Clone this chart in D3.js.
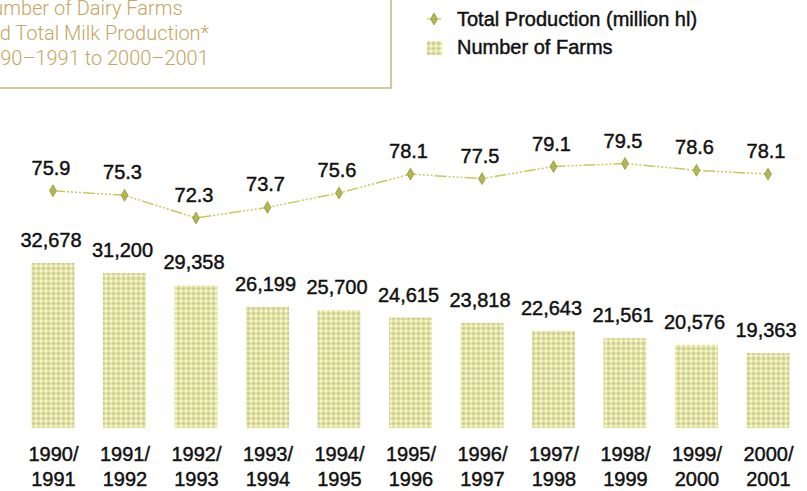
<!DOCTYPE html>
<html>
<head>
<meta charset="utf-8">
<script src="https://cdn.jsdelivr.net/npm/d3@7"></script>
<style>
  html, body { margin: 0; padding: 0; background: #ffffff; }
  svg { display: block; }
  .num { font-family: "Liberation Sans", Arial, Helvetica, sans-serif; font-size: 20px; fill: #111; stroke: #111; stroke-width: 0.45px; }
  .title { font-family: Roboto, "Open Sans", sans-serif; font-weight: 300; font-size: 20px; fill: #c4a65f; }
</style>
</head>
<body>
<div id="chart"></div>
<script>
// Dairy farms and milk production by crop year
const years = ["1990/1991", "1991/1992", "1992/1993", "1993/1994", "1994/1995", "1995/1996",
               "1996/1997", "1997/1998", "1998/1999", "1999/2000", "2000/2001"];
const farms = [32678, 31200, 29358, 26199, 25700, 24615, 23818, 22643, 21561, 20576, 19363];
const production = [75.9, 75.3, 72.3, 73.7, 75.6, 78.1, 77.5, 79.1, 79.5, 78.6, 78.1];
const titleLines = ["Number of Dairy Farms", "and Total Milk Production*", "1990\u20131991 to 2000\u20132001"];
const legendLabels = ["Total Production (million hl)", "Number of Farms"];

const W = 807, H = 491;
const plotBottom = 428;

const svg = d3.select("#chart").append("svg")
  .attr("width", W).attr("height", H);

// Dotted fill used for the farm bars
const defs = svg.append("defs");
const pat = defs.append("pattern")
  .attr("id", "dots").attr("patternUnits", "userSpaceOnUse")
  .attr("width", 5).attr("height", 5);
pat.append("rect").attr("width", 5).attr("height", 5).attr("fill", "#e6e69e");
pat.append("rect").attr("x", 0).attr("y", 0).attr("width", 2).attr("height", 2).attr("fill", "#f8f8d6");
pat.append("rect").attr("x", 2.5).attr("y", 2.5).attr("width", 2).attr("height", 2).attr("fill", "#bbbbac");

// Scales
const x = d3.scalePoint().domain(years).range([53, 768]);
const barW = 43;
const yBar = d3.scaleLinear().domain([0, d3.max(farms)]).range([484, 263]);
const yLine = d3.scaleLinear().domain([72.3, 79.5]).range([218, 163.5]);

// Title box
const tg = svg.append("g");
tg.append("rect")
  .attr("x", -10).attr("y", -10).attr("width", 401).attr("height", 98)
  .attr("fill", "none").attr("stroke", "#c9b577").attr("stroke-width", 1.5);
tg.selectAll("text").data(titleLines).join("text")
  .attr("class", "title")
  .attr("x", -22)
  .attr("y", (d, i) => 15 + i * 25)
  .text(d => d);

// Legend
const lg = svg.append("g");
lg.append("line").attr("x1", 427).attr("x2", 441).attr("y1", 19).attr("y2", 19)
  .attr("stroke", "#c9c95a").attr("stroke-width", 1.2);
lg.append("path")
  .attr("d", d3.symbol(d3.symbolDiamond, 40)())
  .attr("transform", "translate(434,19)")
  .attr("fill", "#b3b84e").attr("stroke", "#8f9539").attr("stroke-width", 0.8);
lg.append("rect").attr("x", 427).attr("y", 41).attr("width", 15).attr("height", 14)
  .attr("fill", "url(#dots)");
lg.selectAll("text").data(legendLabels).join("text")
  .attr("class", "num")
  .attr("x", 457)
  .attr("y", (d, i) => 26 + i * 28)
  .text(d => d);

// Bars
svg.append("g").selectAll("rect").data(farms).join("rect")
  .attr("x", (d, i) => x(years[i]) - barW / 2)
  .attr("y", d => yBar(d))
  .attr("width", barW)
  .attr("height", d => plotBottom - yBar(d))
  .attr("fill", "url(#dots)");

// Bar value labels
svg.append("g").selectAll("text").data(farms).join("text")
  .attr("class", "num")
  .attr("text-anchor", "middle")
  .attr("x", (d, i) => x(years[i]) - 2)
  .attr("y", d => yBar(d) - 16)
  .text(d => d3.format(",")(d));

// Production line
const line = d3.line()
  .x((d, i) => x(years[i]))
  .y(d => yLine(d));
svg.append("path")
  .datum(production)
  .attr("d", line)
  .attr("fill", "none")
  .attr("stroke", "#c9c95a")
  .attr("stroke-width", 1.5)
  .attr("stroke-dasharray", "12 2 2 2 2 2 2 2 2 2");

svg.append("g").selectAll("path").data(production).join("path")
  .attr("d", d3.symbol(d3.symbolDiamond, 40)())
  .attr("transform", (d, i) => `translate(${x(years[i])},${yLine(d)})`)
  .attr("fill", "#b3b84e").attr("stroke", "#8f9539").attr("stroke-width", 0.8);

svg.append("g").selectAll("text").data(production).join("text")
  .attr("class", "num")
  .attr("text-anchor", "middle")
  .attr("x", (d, i) => x(years[i]) - 2)
  .attr("y", d => yLine(d) - 16)
  .text(d => d3.format(".1f")(d));

// Category axis (two-line year labels, no rule)
const xAxis = d3.axisBottom(x).tickSize(0).tickFormat("");
const ax = svg.append("g").attr("transform", `translate(0,${plotBottom})`).call(xAxis);
ax.select(".domain").remove();
ax.selectAll(".tick").each(function(d) {
  const parts = d.split("/");
  const t = d3.select(this).append("text")
    .attr("class", "num")
    .attr("text-anchor", "middle")
    .attr("fill", "#111");
  t.append("tspan").attr("x", 0).attr("y", 33).text(parts[0] + "/");
  t.append("tspan").attr("x", 0).attr("y", 58).text(parts[1]);
});
</script>
</body>
</html>
